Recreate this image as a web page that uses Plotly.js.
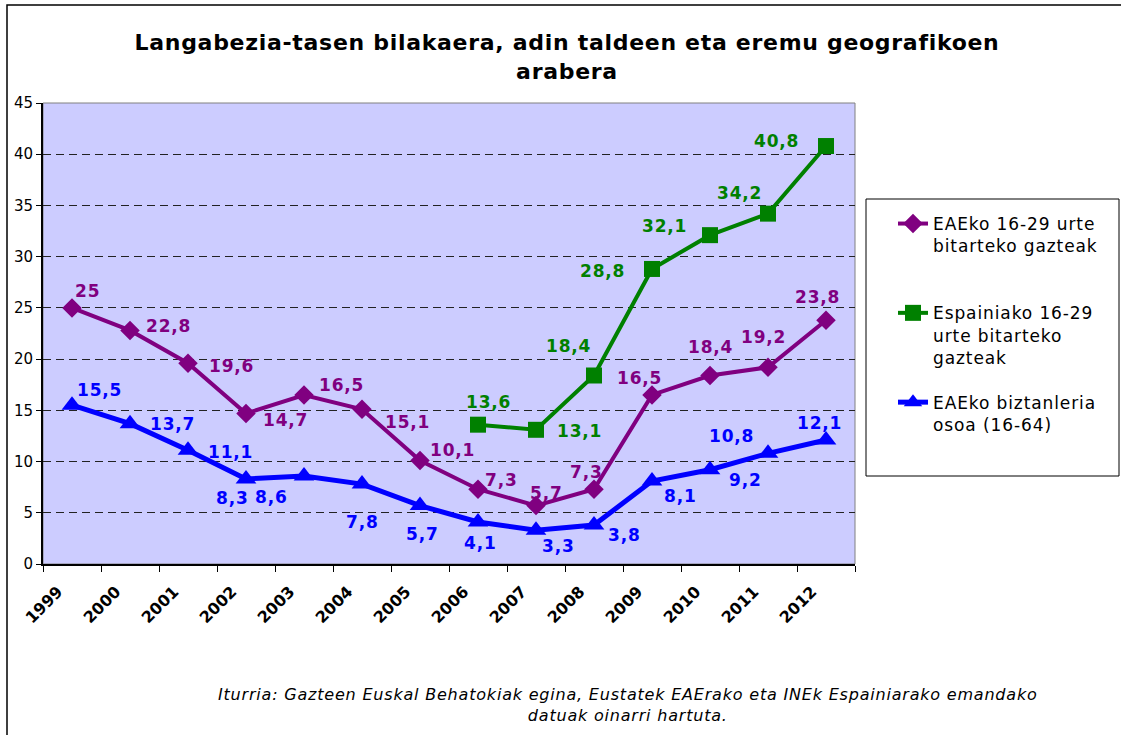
<!DOCTYPE html>
<html>
<head>
<meta charset="utf-8">
<script src="https://cdn.plot.ly/plotly-3.0.1.min.js"></script>
<style>
html,body{margin:0;padding:0;background:#fff;}
#chart{width:1121px;height:735px;}
.annotation-text{letter-spacing:0.8px;}
.legendtext{letter-spacing:0.9px;}
.gtitle{letter-spacing:0.7px;}
</style>
</head>
<body>
<div id="chart"></div>
<script>
// ---- Data ----
const years = ["1999","2000","2001","2002","2003","2004","2005","2006","2007","2008","2009","2010","2011","2012"];
const eaeYouth = [25, 22.8, 19.6, 14.7, 16.5, 15.1, 10.1, 7.3, 5.7, 7.3, 16.5, 18.4, 19.2, 23.8];
const spainYears = ["2006","2007","2008","2009","2010","2011","2012"];
const spainYouth = [13.6, 13.1, 18.4, 28.8, 32.1, 34.2, 40.8];
const eaeTotal = [15.5, 13.7, 11.1, 8.3, 8.6, 7.8, 5.7, 4.1, 3.3, 3.8, 8.1, 9.2, 10.8, 12.1];
const seriesNames = [
  "EAEko 16-29 urte<br>bitarteko gazteak<br> ",
  "Espainiako 16-29<br>urte bitarteko<br>gazteak",
  "EAEko biztanleria<br>osoa (16-64)"
];
const titleText = "Langabezia-tasen bilakaera, adin taldeen eta eremu geografikoen<br>arabera";
const sourceText = "Iturria: Gazteen Euskal Behatokiak egina, Eustatek EAErako eta INEk Espainiarako emandako<br>datuak oinarri hartuta.";

// ---- Styles (label offsets in px: [dx, dy], dy downward) ----
const colPurple = "#800080", colGreen = "#008000", colBlue = "#0000FF";
const offPurple = [[15,-17],[38,-4],[43,3],[39,7],[37,-10],[45,13],[32,-11],[23,-9],[10,-13],[-8,-17],[-13,-17],[0,-29],[-5,-30],[-9,-23]];
const offGreen = [[10,-23],[43,1],[-26,-30],[-50,2],[-46,-9],[-29,-21],[-50,-5]];
const offBlue = [[27,-15],[42,0],[42,2],[-14,19],[-33,21],[0,38],[2,28],[2,21],[22,16],[30,10],[28,15],[35,10],[-37,-17],[-7,-17]];

const fmt = v => String(v).replace('.', ',');
const FONT = "DejaVu Sans, Verdana, sans-serif";

// category axis positions are category indices
function labels(xs, ys, offs, color) {
  return xs.map((x, i) => ({
    x: years.indexOf(x), y: ys[i], xref: 'x', yref: 'y',
    text: fmt(ys[i]), showarrow: false,
    xshift: offs[i][0], yshift: -offs[i][1],
    font: {family: FONT, size: 17, color: color, weight: 'bold'}
  }));
}

const traces = [
  {x: years, y: eaeYouth, name: seriesNames[0], type: 'scatter', mode: 'lines+markers',
   legendgroup: 'a', line: {color: colPurple, width: 4},
   marker: {symbol: 'diamond', size: 15, color: colPurple}},
  {x: spainYears, y: spainYouth, name: seriesNames[1], type: 'scatter', mode: 'lines+markers',
   legendgroup: 'b', line: {color: colGreen, width: 4},
   marker: {symbol: 'square', size: 16, color: colGreen}},
  {x: years, y: eaeTotal, name: seriesNames[2], type: 'scatter', mode: 'lines+markers',
   legendgroup: 'c', line: {color: colBlue, width: 5},
   marker: {symbol: 'triangle-up', size: 18, color: colBlue}}
];

// plot area in px
const L = 43, R = 855, T = 103, B = 564, W = 1121, H = 735;
const px2x = p => (p - L) / (R - L);
const px2y = p => (B - p) / (B - T);

const annotations = []
  .concat(labels(years, eaeYouth, offPurple, colPurple))
  .concat(labels(spainYears, spainYouth, offGreen, colGreen))
  .concat(labels(years, eaeTotal, offBlue, colBlue))
  .concat([{
    xref: 'paper', yref: 'paper', x: px2x(628), y: px2y(705), xanchor: 'center', yanchor: 'middle',
    text: sourceText, showarrow: false, align: 'center',
    font: {family: FONT, size: 16, color: '#000', style: 'italic'}
  }]);

const layout = {
  width: W, height: H,
  margin: {l: L, r: W - R, t: T, b: H - B, pad: 0},
  paper_bgcolor: '#ffffff',
  plot_bgcolor: '#CCCCFF',
  font: {family: FONT, color: '#000'},
  title: {
    text: titleText, x: 567 / W, xanchor: 'center', y: 1 - 50 / H, yanchor: 'top',
    font: {family: FONT, size: 22, color: '#000', weight: 'bold'}
  },
  showlegend: true,
  legend: {
    x: px2x(893), y: px2y(206), xanchor: 'left', yanchor: 'top',
    bgcolor: 'rgba(0,0,0,0)', borderwidth: 0,
    font: {family: FONT, size: 17, color: '#000'},
    traceorder: 'grouped', tracegroupgap: 20, valign: 'top'
  },
  xaxis: {
    type: 'category', range: [-0.5, 13.5], tickson: 'boundaries',
    ticks: 'outside', ticklen: 6, tickcolor: '#000', tickwidth: 1,
    showline: true, linecolor: '#000', linewidth: 2,
    showgrid: false, zeroline: false, tickangle: -45, ticklabelshift: -14, ticklabelstandoff: 10,
    tickfont: {family: FONT, size: 16, color: '#000', weight: 'bold'}
  },
  yaxis: {
    range: [0, 45], dtick: 5, tick0: 0,
    ticks: 'outside', ticklen: 5, tickcolor: '#000',
    showline: true, linecolor: '#000', linewidth: 2,
    showgrid: true, gridcolor: '#222', gridwidth: 1, griddash: '8px,5px',
    zeroline: false,
    tickfont: {family: FONT, size: 15, color: '#000'}
  },
  annotations: annotations,
  shapes: [
    {type: 'rect', xref: 'paper', yref: 'paper', x0: 0, x1: 1, y0: 0, y1: 1,
     line: {color: '#808080', width: 1}, layer: 'below'},
    {type: 'rect', xref: 'paper', yref: 'paper', x0: px2x(866), x1: px2x(1119), y0: px2y(476), y1: px2y(199),
     line: {color: '#000', width: 1}, fillcolor: '#fff', layer: 'below'},
    {type: 'rect', xref: 'paper', yref: 'paper', x0: px2x(7), x1: px2x(1130), y0: px2y(745), y1: px2y(5),
     line: {color: '#000', width: 1.5}, layer: 'below'}
  ]
};

Plotly.newPlot('chart', traces, layout, {displayModeBar: false, staticPlot: true});
</script>
</body>
</html>
